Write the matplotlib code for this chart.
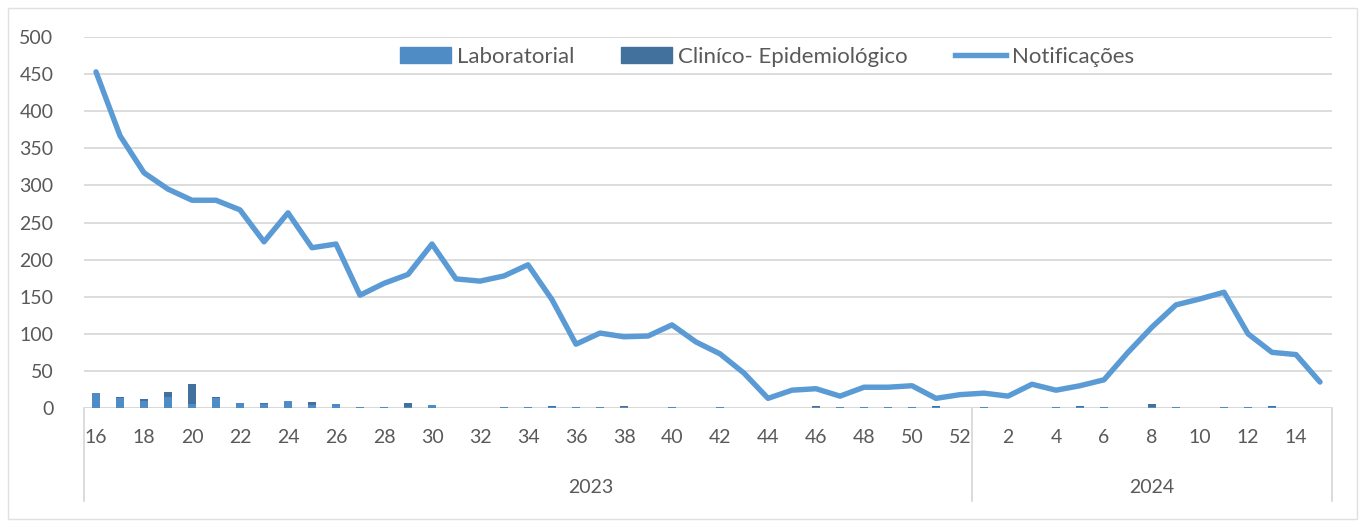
import numpy as np
import matplotlib.pyplot as plt
from matplotlib.patches import Patch
from matplotlib.lines import Line2D

plt.rcParams['font.family'] = ['Lato', 'DejaVu Sans']

# semanas epidemiológicas
semanas_2023 = list(range(16, 53))
semanas_2024 = list(range(1, 16))
semanas = semanas_2023 + semanas_2024

notificacoes = [453, 367, 317, 295, 280, 280, 267, 224, 263, 216, 221, 152, 168, 180, 221,
                174, 171, 178, 193, 146, 86, 101, 96, 97, 112, 89, 73, 47, 13, 24, 26, 16,
                28, 28, 30, 13, 18,
                20, 16, 32, 24, 30, 38, 75, 109, 139, 147, 156, 100, 75, 72, 35]

laboratorial = [20, 13, 9, 15, 6, 13, 7, 6, 9, 4, 5, 1, 1, 2, 4,
                0, 0, 1, 2, 1, 2, 1, 1, 0, 1, 0, 2, 0, 0, 0, 1, 2,
                1, 1, 2, 1, 0,
                1, 0, 0, 1, 1, 1, 0, 1, 1, 0, 1, 2, 1, 0, 0]

clinico = [0, 2, 3, 7, 27, 2, 0, 1, 1, 4, 0, 1, 0, 5, 0,
           0, 0, 0, 0, 2, 0, 0, 2, 0, 0, 0, 0, 0, 0, 0, 2, 0,
           0, 0, 0, 2, 0,
           0, 0, 0, 0, 2, 0, 0, 4, 0, 0, 0, 0, 2, 0, 0]

anos = ['2023', '2024']

c_lab = '#4f8bc4'
c_cli = '#41719c'
c_not = '#5b9bd5'
c_txt = '#595959'
c_grid = '#d9d9d9'

W, H = 1365, 527
fig = plt.figure(figsize=(W / 100, H / 100), dpi=100)
ax = fig.add_axes([84 / W, (H - 408) / H, (1332 - 84) / W, (408 - 37) / H])

x = np.arange(len(semanas))
ax.bar(x, laboratorial, width=0.3, color=c_lab, zorder=2)
ax.bar(x, clinico, width=0.3, bottom=laboratorial, color=c_cli, zorder=2)
ax.plot(x, notificacoes, color=c_not, lw=3.9, solid_joinstyle='round',
        solid_capstyle='round', zorder=3)

ax.set_xlim(-0.5, len(semanas) - 0.5)
ax.set_ylim(0, 500)
ax.set_yticks(np.arange(0, 501, 50))
ax.grid(axis='y', color=c_grid, lw=1.3, zorder=0)
for s in ax.spines.values():
    s.set_visible(False)
ax.axhline(0, color=c_grid, lw=1.3, zorder=1)
ax.tick_params(axis='y', length=0, pad=22, labelsize=14, labelcolor=c_txt)

# rótulos das semanas (a cada 2)
pos = [i for i, s in enumerate(semanas) if s % 2 == 0]
ax.set_xticks(pos)
ax.set_xticklabels([str(semanas[i]) for i in pos])
ax.tick_params(axis='x', length=0, pad=15, labelsize=14, labelcolor=c_txt)

# rótulos dos anos e separadores
n23 = len(semanas_2023)
trans = ax.get_xaxis_transform()
ax.text(20.6, -0.215, anos[0], transform=trans, ha='center', va='center',
        fontsize=14, color=c_txt)
ax.text(n23 + (len(semanas_2024) - 1) / 2, -0.215, anos[1], transform=trans,
        ha='center', va='center', fontsize=14, color=c_txt)
for xv in [-0.5, n23 - 0.5, len(semanas) - 0.5]:
    ax.plot([xv, xv], [0, -0.25], transform=trans, color=c_grid, lw=1.3, clip_on=False)

handles = [Patch(color=c_lab), Patch(color=c_cli), Line2D([], [], color=c_not, lw=3.9)]
fig.legend(handles, ['Laboratorial', 'Cliníco- Epidemiológico', 'Notificações'],
           loc='center', bbox_to_anchor=(767 / W, 1 - 57 / H), ncol=3, frameon=False,
           fontsize=16, labelcolor=c_txt, handlelength=2.3, handleheight=0.75,
           handletextpad=0.27, columnspacing=2.1)

# borda do gráfico
fig.patches.append(plt.Rectangle((8 / W, 8 / H), (W - 16) / W, (H - 16) / H,
                                 transform=fig.transFigure, fill=False,
                                 ec='#e0e0e0', lw=1))

fig.savefig('out.png', dpi=100)
